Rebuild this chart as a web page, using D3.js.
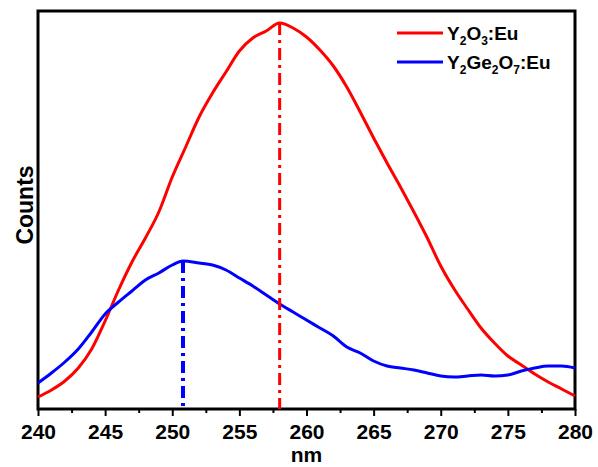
<!DOCTYPE html>
<html>
<head>
<meta charset="utf-8">
<script src="https://cdn.jsdelivr.net/npm/d3@7"></script>
<style>
  body { margin: 0; background: #fff; }
  text { font-family: "Liberation Sans", Arial, sans-serif; font-weight: bold; }
</style>
</head>
<body>
<div id="chart"></div>
<script>
// chart size
var svgWidth = 598;
var svgHeight = 467;

var margin = { top: 11, right: 23, bottom: 58, left: 38 };

var width = svgWidth - margin.left - margin.right;
var height = svgHeight - margin.top - margin.bottom;

// data (wavelength in nm, counts in arbitrary units)
var redNm     = [240, 241, 242, 243, 244, 245, 246, 247, 248, 249, 250, 251, 252, 253, 254, 255, 256, 257, 258, 259, 260, 261, 262, 263, 264, 265, 266, 267, 268, 269, 270, 271, 272, 273, 274, 275, 276, 277, 278, 279, 280];
var redCounts = [12, 19, 28, 41, 60, 88, 119, 147, 171, 197, 232, 262, 292, 316, 337, 358, 371, 378, 386, 381, 372, 359, 343, 322, 297, 271, 246, 222, 197, 171, 143, 120, 100, 81, 66, 53, 44, 35, 27, 20, 13];

var blueNm     = [240, 241, 242, 243, 244, 245, 246, 247, 248, 249, 250, 250.8, 252, 253, 254, 255, 256, 257, 258, 259, 260, 261, 262, 263, 264, 265, 266, 267, 268, 269, 270, 271, 272, 273, 274, 275, 276, 277, 278, 279, 280];
var blueCounts = [26, 36, 47, 60, 77, 95, 107, 118, 129, 136, 144, 148, 146, 144, 139, 131, 123, 114, 105, 97, 89, 81, 73, 62, 56, 48, 43, 41, 39, 36, 33, 32, 33, 34, 33, 34, 38, 41, 43, 43, 41];

var peakNm = [258, 250.8];
var peakCounts = [386, 148];

var seriesNames = ["Y2O3:Eu", "Y2Ge2O7:Eu"];
var seriesColors = ["#ff0000", "#0000ff"];

var xTicks = [240, 245, 250, 255, 260, 265, 270, 275, 280];

var svg = d3.select("#chart")
  .append("svg")
  .attr("width", svgWidth)
  .attr("height", svgHeight);

var chartGroup = svg.append("g")
  .attr("transform", `translate(${margin.left}, ${margin.top})`);

var xLinearScale = d3.scaleLinear()
  .domain([240, 280])
  .range([0, width]);

var yLinearScale = d3.scaleLinear()
  .domain([0, 398])
  .range([height, 0]);

// bottom axis: major ticks with labels, minor ticks between
var bottomAxis = d3.axisBottom(xLinearScale)
  .tickValues(xTicks)
  .tickSize(7)
  .tickPadding(8)
  .tickFormat(d3.format("d"));

var minorTicks = d3.range(242.5, 280, 5);
var minorAxis = d3.axisBottom(xLinearScale)
  .tickValues(minorTicks)
  .tickSize(4)
  .tickFormat("");

var xAxis = chartGroup.append("g")
  .attr("transform", `translate(0, ${height})`)
  .call(bottomAxis);

xAxis.select(".domain").remove();
xAxis.selectAll("line").attr("stroke", "#000").attr("stroke-width", 2);
xAxis.selectAll("text")
  .attr("fill", "#000")
  .style("font-size", "21px");

var xMinor = chartGroup.append("g")
  .attr("transform", `translate(0, ${height})`)
  .call(minorAxis);
xMinor.select(".domain").remove();
xMinor.selectAll("line").attr("stroke", "#000").attr("stroke-width", 2);

// frame
chartGroup.append("rect")
  .attr("x", 0)
  .attr("y", 0)
  .attr("width", width)
  .attr("height", height)
  .attr("fill", "none")
  .attr("stroke", "#000")
  .attr("stroke-width", 3);

// curves
var line = d3.line()
  .x(d => xLinearScale(d[0]))
  .y(d => yLinearScale(d[1]))
  .curve(d3.curveMonotoneX);

var redData = redNm.map((d, i) => [d, redCounts[i]]);
var blueData = blueNm.map((d, i) => [d, blueCounts[i]]);

var plot = chartGroup.append("g");

plot.append("path")
  .datum(redData)
  .attr("d", line)
  .attr("fill", "none")
  .attr("stroke", seriesColors[0])
  .attr("stroke-width", 3);

plot.append("path")
  .datum(blueData)
  .attr("d", line)
  .attr("fill", "none")
  .attr("stroke", seriesColors[1])
  .attr("stroke-width", 3);

// dash-dot lines at the peaks
plot.selectAll(".peak")
  .data(peakNm)
  .enter()
  .append("line")
  .attr("class", "peak")
  .attr("x1", d => xLinearScale(d))
  .attr("x2", d => xLinearScale(d))
  .attr("y1", (d, i) => yLinearScale(peakCounts[i]))
  .attr("y2", height)
  .attr("stroke", (d, i) => seriesColors[i])
  .attr("stroke-width", (d, i) => i == 0 ? 3 : 4)
  .attr("stroke-dasharray", "12,5,3,5");

// legend
var legend = chartGroup.append("g")
  .attr("transform", "translate(359, 22)");

seriesNames.forEach(function(name, i) {
  var g = legend.append("g").attr("transform", `translate(0, ${i * 29})`);
  g.append("line")
    .attr("x1", 0)
    .attr("x2", 46)
    .attr("y1", 0)
    .attr("y2", 0)
    .attr("stroke", seriesColors[i])
    .attr("stroke-width", 3);
  var t = g.append("text")
    .attr("x", 50)
    .attr("y", 7)
    .attr("fill", "#000");
  // chemical formula with subscripts
  var parts = name.match(/[A-Za-z:]+|\d+/g);
  var shift = 0;
  parts.forEach(function(p) {
    var sub = /^\d+$/.test(p);
    var dy = sub ? 5 : -shift;
    shift = sub ? 5 : 0;
    t.append("tspan")
      .attr("dy", dy)
      .style("font-size", sub ? "12px" : "19px")
      .text(p);
  });
});

// axis labels
chartGroup.append("text")
  .attr("x", width / 2)
  .attr("y", height + 53)
  .attr("text-anchor", "middle")
  .style("font-size", "21px")
  .text("nm");

chartGroup.append("text")
  .attr("transform", "rotate(-90)")
  .attr("x", -194)
  .attr("y", -5)
  .attr("text-anchor", "middle")
  .style("font-size", "23px")
  .text("Counts");
</script>
</body>
</html>
